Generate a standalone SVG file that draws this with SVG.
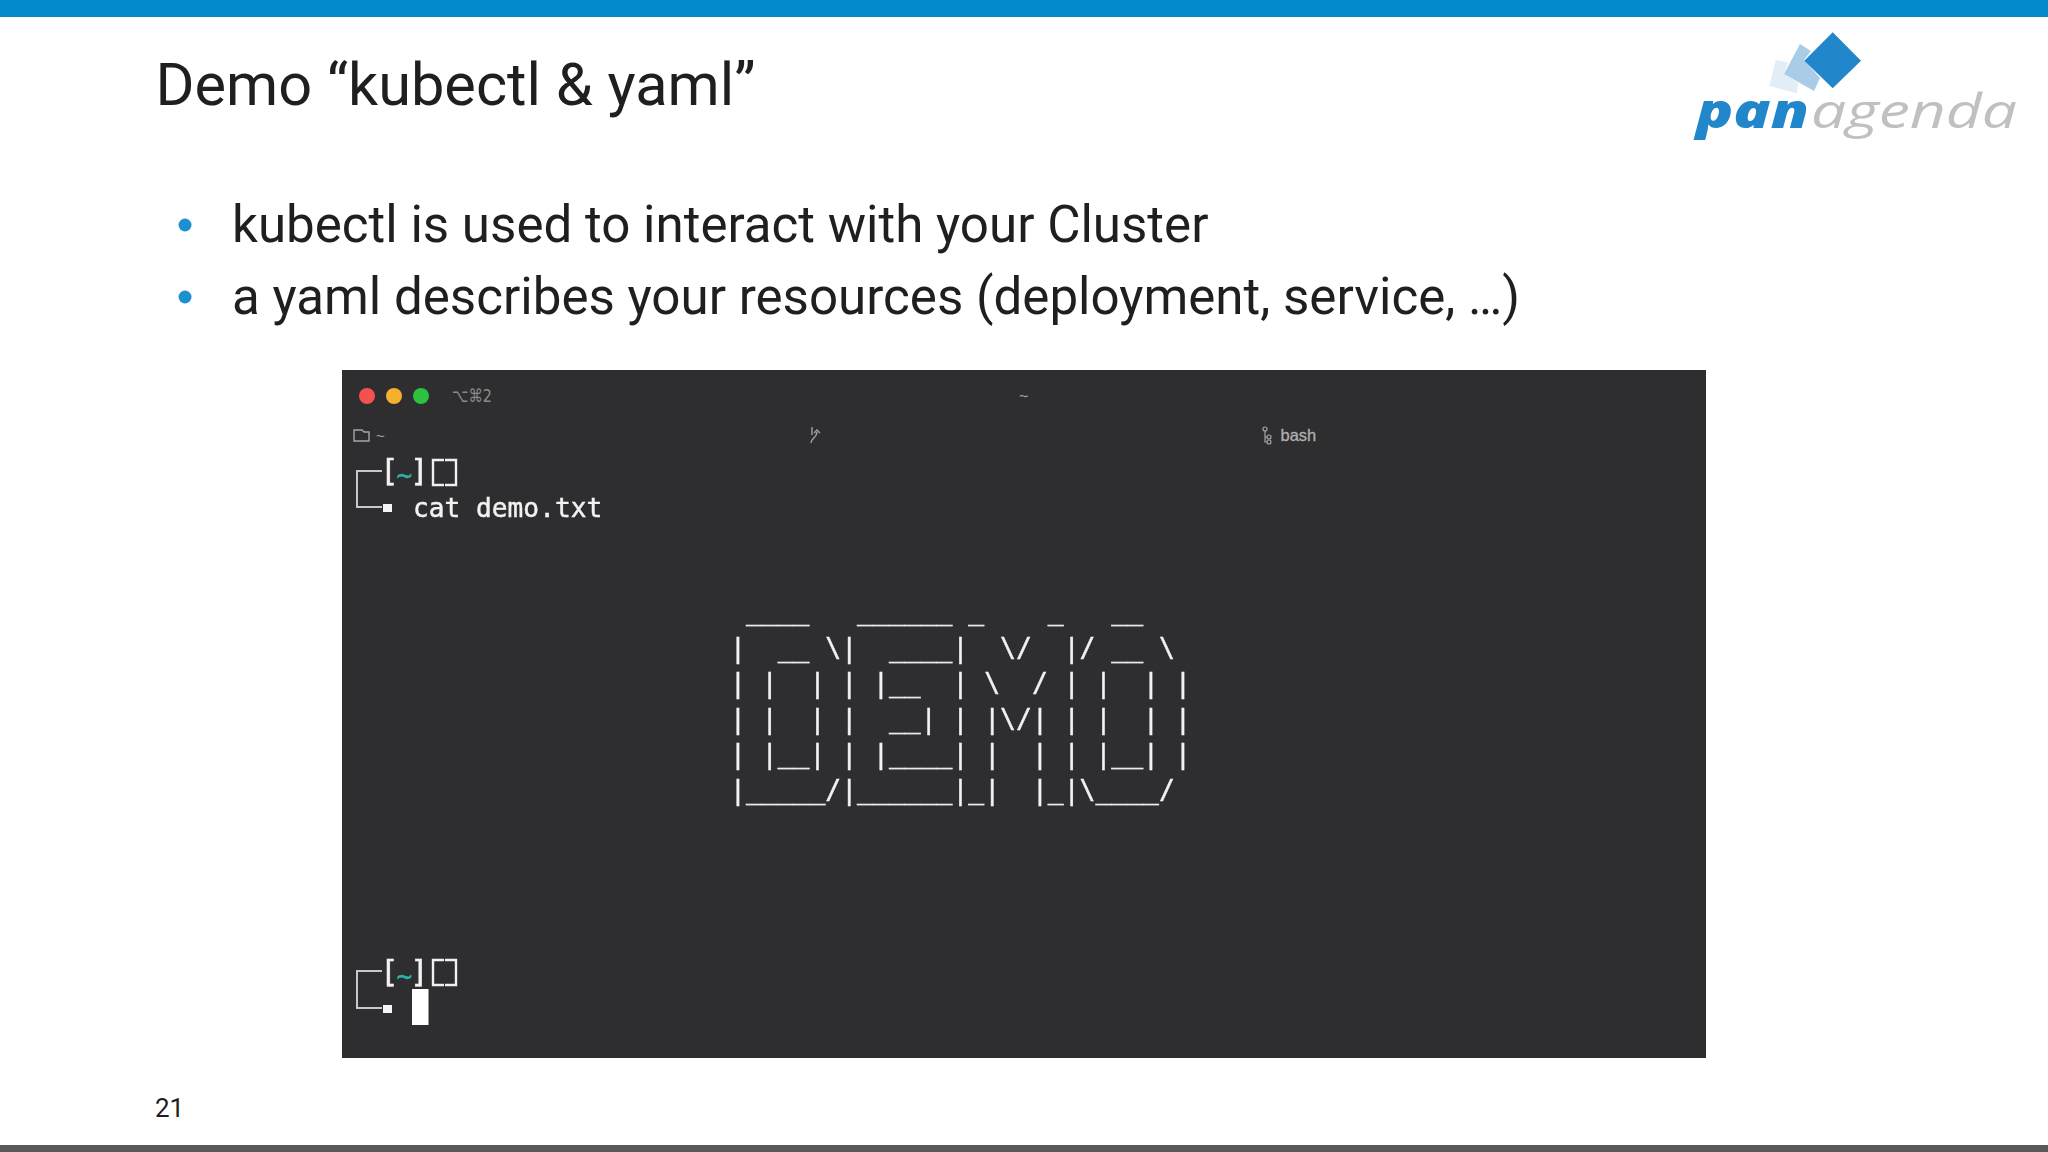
<svg xmlns="http://www.w3.org/2000/svg" width="2048" height="1152" viewBox="0 0 2048 1152">
<defs>
<style>
.t{font-family:Roboto,"Liberation Sans",sans-serif;fill:#1f1f1f}
.m{font-family:"DejaVu Sans Mono","Liberation Mono",monospace;font-size:26.4px;fill:#f2f2f2;white-space:pre;stroke:#f2f2f2;stroke-width:0.45}
.p{font-family:"DejaVu Sans Mono","Liberation Mono",monospace;font-size:31px;fill:#f2f2f2;white-space:pre;stroke:#f2f2f2;stroke-width:0.5}
.s{font-family:"Liberation Sans",sans-serif;fill:#a5a5a5}
.g{fill:none;stroke:#c8c8c8;stroke-width:2}
.b{fill:none;stroke:#f0f0f0;stroke-width:2.4}
</style>
<filter id="soft" x="-5%" y="-5%" width="110%" height="110%"><feGaussianBlur stdDeviation="0.45"/></filter>
</defs>
<rect width="2048" height="1152" fill="#ffffff"/>
<rect width="2048" height="17" fill="#0288cc"/>
<rect y="1145" width="2048" height="7" fill="#595959"/>
<text class="t" x="155.5" y="105" font-size="59.5">Demo “kubectl &amp; yaml”</text>
<circle cx="185" cy="225" r="6.5" fill="#1e90d0"/>
<circle cx="185" cy="297" r="6.5" fill="#1e90d0"/>
<text class="t" x="232" y="242" font-size="51.1">kubectl is used to interact with your Cluster</text>
<text class="t" x="232" y="314" font-size="51.1">a yaml describes your resources (deployment, service, …)</text>
<text class="t" x="155" y="1117" font-size="26">21</text>
<g id="logo">
<polygon points="1775.7,60 1788,62.3 1784,74 1798.3,83.3 1796.7,93.3 1769.3,86" fill="#e3edf6"/>
<polygon points="1800,44 1811,51 1804,60 1820,78 1814,91 1784,74" fill="#a9cde8"/>
<polygon points="1832.7,32.3 1861,60.7 1832.7,88.3 1804.3,60.7" fill="#2286cb"/>
<text x="1696" y="128" font-family="'Open Sans','Liberation Sans',sans-serif" font-size="47" font-style="italic" font-weight="800" fill="#2286cb" textLength="113" lengthAdjust="spacingAndGlyphs">pan</text>
<text x="1811" y="128" font-family="'Open Sans','Liberation Sans',sans-serif" font-size="47" font-style="italic" font-weight="400" fill="#bfc0c2" textLength="206" lengthAdjust="spacingAndGlyphs">agenda</text>
</g>
<g id="terminal">
<rect x="342" y="370" width="1364" height="688" fill="#2e2d2f"/>
<circle cx="367" cy="396" r="8" fill="#f4524f"/>
<circle cx="394" cy="396" r="8" fill="#f5b02e"/>
<circle cx="421" cy="396" r="8" fill="#2dc13f"/>
<text class="s" x="452" y="402" font-size="18" textLength="40" lengthAdjust="spacingAndGlyphs" style="font-family:'DejaVu Sans',sans-serif;fill:#8a8a8a">⌥⌘2</text>
<text class="s" x="1019" y="402" font-size="16">~</text>
<path d="M354 441V430H362L364 432H369V441Z" fill="none" stroke="#a5a5a5" stroke-width="1.4"/>
<text class="s" x="376" y="441" font-size="15">~</text>
<path d="M812 427V435M811 443C811 438 817 438 817 432M814 433L817 430L820 433" fill="none" stroke="#a5a5a5" stroke-width="1.4"/>
<circle cx="1265" cy="429" r="2" fill="none" stroke="#a5a5a5" stroke-width="1.2"/>
<circle cx="1269" cy="437" r="2" fill="none" stroke="#a5a5a5" stroke-width="1.2"/>
<circle cx="1269" cy="442" r="2" fill="none" stroke="#a5a5a5" stroke-width="1.2"/>
<path d="M1265 431V442H1267M1265 437H1267" fill="none" stroke="#a5a5a5" stroke-width="1.2"/>
<text class="s" x="1280.5" y="441" font-size="16.5" style="fill:#b0b0b0;stroke:#b0b0b0;stroke-width:0.3">bash</text>
<g filter="url(#soft)">
<path class="g" d="M382 471H357V507H382"/>
<text class="p" y="481" x="380">[<tspan x="396.5" y="484" fill="#2cb5ab" stroke="#2cb5ab" style="font-size:26px">~</tspan><tspan x="410" y="481">]</tspan></text>
<path class="b" d="M444 460H433V485H444M445 460H456V485H445"/>
<rect x="383" y="504" width="9" height="8" fill="#f5f5f5"/>
<text class="m" x="413" y="517" style="font-size:26.2px">cat demo.txt</text>
<text class="m" x="730" y="620"> ____   ______ _    _   __</text>
<text class="m" x="730" y="656.5">|  __ \|  ____|  \/  |/ __ \</text>
<text class="m" x="730" y="692">| |  | | |__  | \  / | |  | |</text>
<text class="m" x="730" y="727.5">| |  | |  __| | |\/| | |  | |</text>
<text class="m" x="730" y="763">| |__| | |____| |  | | |__| |</text>
<text class="m" x="730" y="799">|_____/|______|_|  |_|\____/</text>
<path class="g" d="M382 971H357V1008H382"/>
<text class="p" y="982" x="380">[<tspan x="396.5" y="985" fill="#2cb5ab" stroke="#2cb5ab" style="font-size:26px">~</tspan><tspan x="410" y="982">]</tspan></text>
<path class="b" d="M444 960H433V985H444M445 960H456V985H445"/>
<rect x="383" y="1005" width="9" height="8" fill="#f5f5f5"/>
<rect x="412" y="989" width="16.5" height="36" fill="#ffffff"/>
</g>
</g>
</svg>
